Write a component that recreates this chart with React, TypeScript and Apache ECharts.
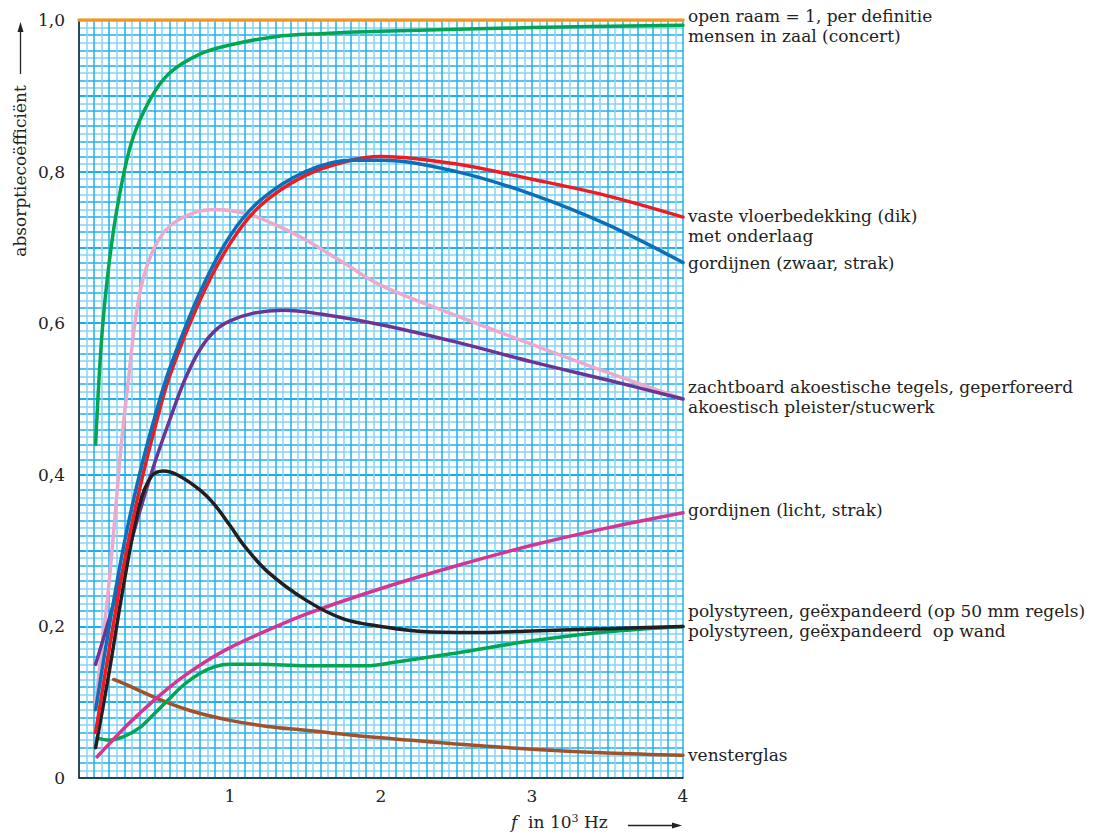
import React, { useEffect, useRef } from "react";
import * as echarts from "echarts";

const xTicks = [0, 1, 2, 3, 4];
const yTicks = [0, 0.2, 0.4, 0.6, 0.8, 1.0];

const openRaam: number[][] = [[0, 1], [4, 1]];
const mensenInZaal: number[][] = [[0.11, 0.44], [0.15, 0.58], [0.2, 0.68], [0.26, 0.76], [0.35, 0.84], [0.47, 0.895], [0.6, 0.93], [0.8, 0.955], [1.0, 0.967], [1.3, 0.978], [1.6, 0.982], [2, 0.985], [3, 0.99], [4, 0.993]];
const vasteVloer: number[][] = [[0.11, 0.06], [0.2, 0.17], [0.3, 0.285], [0.4, 0.38], [0.5, 0.46], [0.6, 0.53], [0.8, 0.63], [1.0, 0.705], [1.2, 0.755], [1.5, 0.795], [1.8, 0.815], [2, 0.82], [2.5, 0.81], [3, 0.79], [3.5, 0.768], [4, 0.74]];
const gordijnenZwaar: number[][] = [[0.11, 0.09], [0.2, 0.2], [0.3, 0.31], [0.4, 0.4], [0.5, 0.475], [0.6, 0.54], [0.8, 0.64], [1.0, 0.715], [1.2, 0.762], [1.5, 0.8], [1.8, 0.815], [2, 0.815], [2.5, 0.8], [3, 0.77], [3.5, 0.73], [4, 0.68]];
const zachtboard: number[][] = [[0.11, 0.1], [0.2, 0.26], [0.28, 0.44], [0.33, 0.53], [0.37, 0.6], [0.42, 0.655], [0.5, 0.7], [0.6, 0.728], [0.75, 0.745], [0.9, 0.75], [1.1, 0.745], [1.3, 0.73], [1.5, 0.71], [1.75, 0.68], [2, 0.65], [2.5, 0.61], [3, 0.572], [3.5, 0.535], [4, 0.5]];
const pleister: number[][] = [[0.11, 0.15], [0.2, 0.21], [0.3, 0.28], [0.4, 0.35], [0.5, 0.415], [0.6, 0.472], [0.7, 0.525], [0.8, 0.565], [0.9, 0.59], [1.0, 0.603], [1.15, 0.613], [1.35, 0.617], [1.6, 0.612], [2, 0.598], [2.5, 0.575], [3, 0.549], [3.5, 0.525], [4, 0.5]];
const polyRegels: number[][] = [[0.11, 0.04], [0.2, 0.14], [0.3, 0.26], [0.4, 0.36], [0.48, 0.398], [0.56, 0.405], [0.65, 0.4], [0.8, 0.38], [0.9, 0.36], [1.0, 0.333], [1.1, 0.305], [1.25, 0.272], [1.5, 0.235], [1.75, 0.21], [2, 0.2], [2.3, 0.193], [2.7, 0.192], [3, 0.194], [3.5, 0.197], [4, 0.2]];
const gordijnenLicht: number[][] = [[0.12, 0.028], [0.2, 0.045], [0.3, 0.066], [0.4, 0.085], [0.5, 0.103], [0.6, 0.12], [0.7, 0.135], [0.85, 0.155], [1, 0.172], [1.25, 0.195], [1.5, 0.216], [2, 0.25], [2.5, 0.28], [3, 0.307], [3.5, 0.33], [4, 0.35]];
const polyWand: number[][] = [[0.12, 0.053], [0.2, 0.05], [0.3, 0.055], [0.4, 0.066], [0.5, 0.085], [0.6, 0.105], [0.7, 0.124], [0.8, 0.138], [0.9, 0.147], [1.0, 0.15], [1.2, 0.15], [1.5, 0.148], [1.9, 0.148], [2.1, 0.153], [2.5, 0.165], [3, 0.181], [3.5, 0.193], [4, 0.2]];
const vensterglas: number[][] = [[0.23, 0.13], [0.35, 0.12], [0.54, 0.103], [0.75, 0.088], [1.0, 0.076], [1.25, 0.068], [1.5, 0.063], [2, 0.053], [2.5, 0.045], [3, 0.038], [3.5, 0.033], [4, 0.03]];

const labels: [string, number][] = [
  ["open raam = 1, per definitie\nmensen in zaal (concert)", 26],
  ["vaste vloerbedekking (dik)\nmet onderlaag", 225.5],
  ["gordijnen (zwaar, strak)", 263],
  ["zachtboard akoestische tegels, geperforeerd\nakoestisch pleister/stucwerk", 396.5],
  ["gordijnen (licht, strak)", 510],
  ["polystyreen, geëxpandeerd (op 50 mm regels)\npolystyreen, geëxpandeerd  op wand", 620.5],
  ["vensterglas", 755],
];

const SERIF = "'DejaVu Serif', 'Liberation Serif', serif";
const FS = 17;
const DARK = "#1cb0ec";
const LIGHT = "#86d5f6";

export default function App() {
  const ref = useRef<HTMLDivElement>(null);
  useEffect(() => {
    document.body.style.margin = "0";
    const chart = echarts.init(ref.current!, null, { renderer: "svg" });
    const mk = (name: string, data: number[][], color: string, z = 3) => ({
      name,
      type: "line",
      data,
      smooth: 0.35,
      showSymbol: false,
      z,
      lineStyle: { color, width: 3.5, cap: "round" },
    });
    const hiddenAxis = {
      axisLabel: { show: false },
      axisLine: { show: false },
      axisTick: { show: false },
    };
    chart.setOption({
      animation: false,
      grid: { left: 79, top: 20, width: 604, height: 758, containLabel: false },
      xAxis: [
        {
          type: "value",
          min: 0,
          max: 4,
          interval: 1,
          axisLine: { show: true, lineStyle: { color: "#222", width: 1.5 } },
          axisTick: { show: false },
          splitLine: { show: false },
          axisLabel: {
            margin: 9,
            fontFamily: SERIF,
            fontSize: FS,
            color: "#222",
            formatter: (v: number) => (v === 0 ? "" : String(v)),
          },
          data: xTicks,
        },
        {
          type: "value",
          min: 0,
          max: 4,
          interval: 0.05,
          ...hiddenAxis,
          splitLine: { show: true, lineStyle: { color: [DARK, LIGHT], width: 1.5 } },
        },
      ],
      yAxis: [
        {
          type: "value",
          min: 0,
          max: 1,
          interval: 0.2,
          axisLine: { show: true, lineStyle: { color: "#222", width: 1.5 } },
          axisTick: { show: false },
          splitLine: { show: false },
          axisLabel: {
            margin: 14,
            fontFamily: SERIF,
            fontSize: FS,
            color: "#222",
            formatter: (v: number) => (v === 0 ? "0" : v.toFixed(1).replace(".", ",")),
          },
          data: yTicks,
        },
        {
          type: "value",
          min: 0,
          max: 1,
          interval: 0.01,
          ...hiddenAxis,
          splitLine: { show: true, lineStyle: { color: [DARK, LIGHT], width: 1.5 } },
        },
        {
          type: "value",
          min: 0,
          max: 1,
          interval: 0.1,
          ...hiddenAxis,
          splitLine: { show: true, lineStyle: { color: DARK, width: 2 } },
        },
      ],
      series: [
        mk("vensterglas", vensterglas, "#a0522d"),
        mk("polystyreen op wand", polyWand, "#00a651"),
        mk("gordijnen licht", gordijnenLicht, "#d33595"),
        mk("zachtboard", zachtboard, "#eaa9cf"),
        mk("pleister", pleister, "#6a3594"),
        mk("polystyreen regels", polyRegels, "#231f20"),
        mk("vaste vloerbedekking", vasteVloer, "#ed1c24"),
        mk("gordijnen zwaar", gordijnenZwaar, "#0a6fb8"),
        mk("mensen in zaal", mensenInZaal, "#00a651"),
        { ...mk("open raam", openRaam, "#f7941d", 5), smooth: false },
      ],
      graphic: [
        ...labels.map(([t, y]) => ({
          type: "text",
          x: 688,
          y,
          style: {
            text: t,
            fontFamily: SERIF,
            fontSize: FS,
            lineHeight: 20,
            fill: "#222",
            textAlign: "left",
            textVerticalAlign: "middle",
          },
        })),
        {
          type: "text",
          x: 20,
          y: 171,
          rotation: Math.PI / 2,
          style: {
            text: "absorptiecoëfficiënt",
            fontFamily: SERIF,
            fontSize: FS,
            fill: "#222",
            textAlign: "center",
            textVerticalAlign: "middle",
          },
        },
        { type: "line", shape: { x1: 20.5, y1: 74, x2: 20.5, y2: 30 }, style: { stroke: "#222", lineWidth: 1.3 } },
        { type: "polygon", shape: { points: [[20.5, 22], [17.5, 32], [23.5, 32]] }, style: { fill: "#222" } },
        {
          type: "text",
          x: 511,
          y: 822,
          style: {
            text: "{i|f}  in 10{s|3} Hz",
            fontFamily: SERIF,
            fontSize: FS,
            fill: "#222",
            textVerticalAlign: "middle",
            rich: {
              i: { fontStyle: "italic", fontFamily: SERIF, fontSize: FS },
              s: { fontSize: 11, fontFamily: SERIF, verticalAlign: "top", padding: [0, 0, 7, 0] },
            },
          },
        },
        { type: "line", shape: { x1: 628, y1: 825.5, x2: 674, y2: 825.5 }, style: { stroke: "#222", lineWidth: 1.3 } },
        { type: "polygon", shape: { points: [[682, 825.5], [672, 822.5], [672, 828.5]] }, style: { fill: "#222" } },
      ],
    });
    return () => chart.dispose();
  }, []);
  return <div ref={ref} style={{ width: 1108, height: 834 }} />;
}
